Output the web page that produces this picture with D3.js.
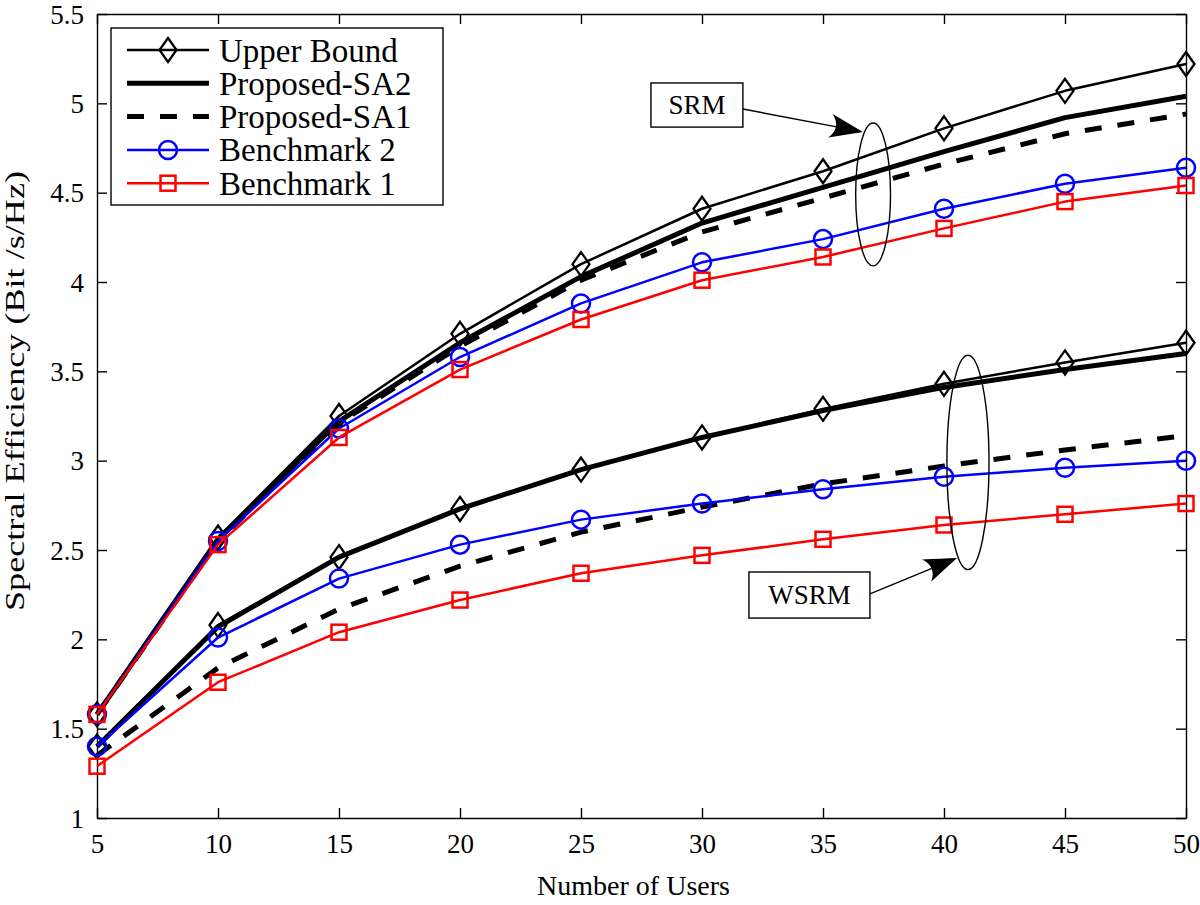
<!DOCTYPE html>
<html>
<head>
<meta charset="utf-8">
<script src="https://cdn.jsdelivr.net/npm/d3@7"></script>
<style>
body{margin:0;background:#fff;}
.chart text{font-family:"Liberation Serif","Times New Roman",serif;fill:#000;}
</style>
</head>
<body>
<div class="chart"></div>
<script>
// x values
var users = [5,10,15,20,25,30,35,40,45,50];

// SRM group (upper curves)
var upperSRM = [1.58,2.57,3.25,3.71,4.10,4.41,4.62,4.86,5.07,5.22];
var sa2SRM   = [1.58,2.56,3.22,3.66,4.03,4.33,4.53,4.73,4.92,5.04];
var sa1SRM   = [1.58,2.55,3.21,3.64,4.01,4.28,4.47,4.66,4.83,4.94];
var bm2SRM   = [1.58,2.55,3.18,3.58,3.88,4.11,4.24,4.41,4.55,4.64];
var bm1SRM   = [1.58,2.53,3.13,3.51,3.79,4.01,4.14,4.30,4.45,4.54];

// WSRM group (lower curves)
var upperWSRM = [1.40,2.08,2.46,2.73,2.95,3.13,3.29,3.43,3.55,3.66];
var sa2WSRM   = [1.40,2.07,2.46,2.73,2.95,3.13,3.28,3.41,3.51,3.60];
var sa1WSRM   = [1.35,1.84,2.17,2.41,2.60,2.74,2.87,2.97,3.06,3.14];
var bm2WSRM   = [1.40,2.01,2.34,2.53,2.67,2.76,2.84,2.91,2.96,3.00];
var bm1WSRM   = [1.29,1.76,2.04,2.22,2.37,2.47,2.56,2.64,2.70,2.76];

var seriesNames = ["Upper Bound","Proposed-SA2","Proposed-SA1","Benchmark 2","Benchmark 1"];
var xTicks = [5,10,15,20,25,30,35,40,45,50];
var yTicks = [1,1.5,2,2.5,3,3.5,4,4.5,5,5.5];
var xLabel = "Number of Users";
var yLabel = "Spectral Efficiency (Bit /s/Hz)";

// line styles, same order as seriesNames
var styles = [
    {color:"#000", width:2.5, dash:null, marker:"diamond"},
    {color:"#000", width:5, dash:null, marker:null},
    {color:"#000", width:5, dash:"17,16", marker:null},
    {color:"#0000ff", width:2.5, dash:null, marker:"circle"},
    {color:"#ff0000", width:2.5, dash:null, marker:"square"}
];

var groups = [
    [upperSRM, sa2SRM, sa1SRM, bm2SRM, bm1SRM],
    [upperWSRM, sa2WSRM, sa1WSRM, bm2WSRM, bm1WSRM]
];

var svg = d3.select(".chart").append("svg").attr("width",1200).attr("height",905);

var x = d3.scaleLinear().domain([5,50]).range([97,1186]);
var y = d3.scaleLinear().domain([1,5.5]).range([818,14]);

var fmt = function(d){ return String(d); };

//axes - ticks point inward on all four sides
var gx = svg.append("g").attr("transform","translate(0,"+y(1)+")")
    .call(d3.axisBottom(x).tickValues(xTicks).tickFormat(fmt).tickSize(-10).tickSizeOuter(0).tickPadding(16));
var gy = svg.append("g").attr("transform","translate("+x(5)+",0)")
    .call(d3.axisLeft(y).tickValues(yTicks).tickFormat(fmt).tickSize(-10).tickSizeOuter(0).tickPadding(13));
var gt = svg.append("g").attr("transform","translate(0,"+y(5.5)+")")
    .call(d3.axisTop(x).tickValues(xTicks).tickFormat("").tickSize(-10).tickSizeOuter(0));
var gr = svg.append("g").attr("transform","translate("+x(50)+",0)")
    .call(d3.axisRight(y).tickValues(yTicks).tickFormat("").tickSize(-10).tickSizeOuter(0));

[gx,gy,gt,gr].forEach(function(g){
    g.selectAll("path,line").attr("stroke","#000").attr("stroke-width",1.4);
    g.selectAll("text").attr("font-size",27).attr("font-family","Liberation Serif, serif").attr("fill","#000");
});
gy.selectAll("text").attr("dy","0.34em");

//axis titles
svg.append("text").attr("x",(x(5)+x(50))/2 - 8).attr("y",895)
    .attr("text-anchor","middle").attr("font-size",28).text(xLabel);
svg.append("text").attr("transform","translate(24,"+((y(1)+y(5.5))/2 - 25)+") rotate(-90)")
    .attr("text-anchor","middle").attr("font-size",28)
    .attr("textLength",440).attr("lengthAdjust","spacingAndGlyphs").text(yLabel);

//markers
function drawMarker(g, type, cx, cy, color){
    if(type=="diamond"){
        g.append("path").attr("d","M"+cx+","+(cy-12)+"L"+(cx+8.5)+","+cy+"L"+cx+","+(cy+12)+"L"+(cx-8.5)+","+cy+"Z")
            .attr("fill","none").attr("stroke",color).attr("stroke-width",2.3);
    } else if(type=="circle"){
        g.append("circle").attr("cx",cx).attr("cy",cy).attr("r",9)
            .attr("fill","none").attr("stroke",color).attr("stroke-width",2.5);
    } else if(type=="square"){
        g.append("rect").attr("x",cx-7.5).attr("y",cy-7.5).attr("width",15).attr("height",15)
            .attr("fill","none").attr("stroke",color).attr("stroke-width",2.5);
    }
}

var line = d3.line().x(function(d,i){ return x(users[i]); }).y(function(d){ return y(d); });

var plot = svg.append("g").attr("id","plotLayer");
groups.forEach(function(grp){
    grp.forEach(function(vals, k){
        var s = styles[k];
        plot.append("path").attr("d",line(vals))
            .attr("fill","none").attr("stroke",s.color).attr("stroke-width",s.width)
            .attr("stroke-dasharray",s.dash).attr("stroke-linejoin","round");
        if(s.marker){
            vals.forEach(function(v,i){ drawMarker(plot, s.marker, x(users[i]), y(v), s.color); });
        }
    });
});

//annotations: ellipses, text boxes and arrows (positions in data units)
var ellipses = [
    {cx:37.07, cy:4.49, rx:0.72, ry:0.40},
    {cx:40.99, cy:2.99, rx:0.87, ry:0.60}
];
var notes = [
    {text:"SRM",  x0:27.89, x1:31.69, y0:5.114, y1:4.867, from:[31.69,4.968], to:[36.65,4.84]},
    {text:"WSRM", x0:31.94, x1:36.94, y0:2.377, y1:2.119, from:[36.94,2.254], to:[40.54,2.455]}
];

var ann = svg.append("g").attr("id","annLayer");
ellipses.forEach(function(e){
    ann.append("ellipse").attr("cx",x(e.cx)).attr("cy",y(e.cy))
        .attr("rx",x(e.cx+e.rx)-x(e.cx)).attr("ry",y(e.cy)-y(e.cy+e.ry))
        .attr("fill","none").attr("stroke","#000").attr("stroke-width",1.4);
});
notes.forEach(function(n){
    ann.append("rect").attr("x",x(n.x0)).attr("y",y(n.y0))
        .attr("width",x(n.x1)-x(n.x0)).attr("height",y(n.y1)-y(n.y0))
        .attr("fill","#fff").attr("stroke","#000").attr("stroke-width",1.4);
    ann.append("text").attr("x",(x(n.x0)+x(n.x1))/2).attr("y",(y(n.y0)+y(n.y1))/2)
        .attr("dy","0.35em").attr("text-anchor","middle").attr("font-size",27).text(n.text);
    var fx = x(n.from[0]), fy = y(n.from[1]), tx = x(n.to[0]), ty = y(n.to[1]);
    var ang = Math.atan2(ty-fy, tx-fx)*180/Math.PI;
    ann.append("line").attr("x1",fx).attr("y1",fy).attr("x2",tx-20*Math.cos(ang*Math.PI/180)).attr("y2",ty-20*Math.sin(ang*Math.PI/180))
        .attr("stroke","#000").attr("stroke-width",1.4);
    ann.append("path").attr("d","M0,0 Q-14,-5 -33,-12 Q-22,0 -33,12 Q-14,5 0,0Z")
        .attr("transform","translate("+tx+","+ty+") rotate("+ang+")")
        .attr("fill","#000");
});

//legend
var leg = svg.append("g").attr("id","legend");
leg.append("rect").attr("x",111).attr("y",28).attr("width",332).attr("height",177)
    .attr("fill","#fff").attr("stroke","#000").attr("stroke-width",1.4);
seriesNames.forEach(function(name,i){
    var s = styles[i];
    var ry = 50 + i*33.3;
    leg.append("line").attr("x1",127).attr("x2",209).attr("y1",ry).attr("y2",ry)
        .attr("stroke",s.color).attr("stroke-width",s.width).attr("stroke-dasharray",s.dash);
    if(s.marker) drawMarker(leg, s.marker, 168, ry, s.color);
    leg.append("text").attr("x",219).attr("y",ry).attr("dy","0.35em")
        .attr("font-size",33).text(name);
});
</script>
</body>
</html>
